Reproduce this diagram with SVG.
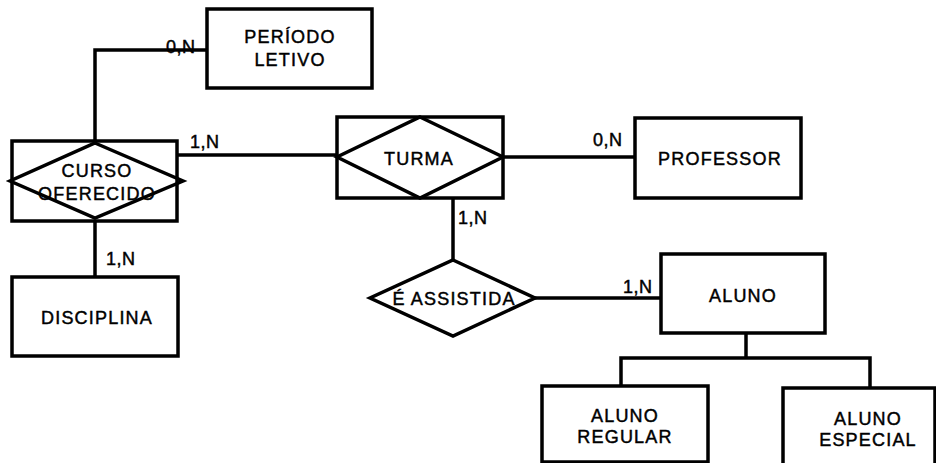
<svg xmlns="http://www.w3.org/2000/svg" width="936" height="463" viewBox="0 0 936 463">
<style>
.box{fill:#fff;stroke:#000;stroke-width:3.5}
.dia{fill:none;stroke:#000;stroke-width:3.5;stroke-linejoin:miter}
.ln{fill:none;stroke:#000;stroke-width:3.5}
text{font-family:"Liberation Sans",Arial,sans-serif;font-size:18px;fill:#000;stroke:#000;stroke-width:0.45;letter-spacing:1.2px}
.c{text-anchor:middle}
.card{letter-spacing:0.5px}
</style>
<rect width="936" height="463" fill="#fff"/>
<g id="connectors">
<polyline class="ln" points="95,141 95,50 207,50"/>
<line class="ln" x1="177" y1="155" x2="338" y2="155"/>
<line class="ln" x1="503" y1="157" x2="635" y2="157"/>
<line class="ln" x1="95" y1="221" x2="95" y2="277"/>
<line class="ln" x1="453" y1="198" x2="453" y2="260"/>
<line class="ln" x1="535" y1="298" x2="661" y2="298"/>
<line class="ln" x1="746" y1="333" x2="746" y2="358"/>
<polyline class="ln" points="621,386 621,358 870,358 870,388"/>
<text class="card" x="166" y="53">0,N</text>
<text class="card" x="190" y="148">1,N</text>
<text class="card" x="593" y="146">0,N</text>
<text class="card" x="458" y="224">1,N</text>
<text class="card" x="106" y="265">1,N</text>
<text class="card" x="623" y="293">1,N</text>
</g>
<g id="periodo-letivo">
<rect class="box" x="207" y="9" width="165" height="79"/>
<text class="c" x="290" y="43">PERÍODO</text>
<text class="c" x="290" y="66">LETIVO</text>
</g>
<g id="curso-oferecido">
<rect class="box" x="12" y="141" width="165" height="80"/>
<polygon class="dia" points="95,143 183,181 95,218 10,181"/>
<text class="c" x="97" y="177">CURSO</text>
<text class="c" x="97" y="200">OFERECIDO</text>
</g>
<g id="turma">
<rect class="box" x="337" y="117" width="166" height="81"/>
<polygon class="dia" points="420,117 503,157 420,198 337,157"/>
<text class="c" x="419" y="165">TURMA</text>
</g>
<g id="professor">
<rect class="box" x="635" y="118" width="166" height="80"/>
<text class="c" x="720" y="165">PROFESSOR</text>
</g>
<g id="disciplina">
<rect class="box" x="12" y="277" width="166" height="79"/>
<text class="c" x="97" y="324">DISCIPLINA</text>
</g>
<g id="e-assistida">
<polygon class="dia" points="453,260 535,298 453,336 370,298"/>
<text class="c" x="454" y="305">É ASSISTIDA</text>
</g>
<g id="aluno">
<rect class="box" x="661" y="254" width="164" height="79"/>
<text class="c" x="743" y="302">ALUNO</text>
</g>
<g id="aluno-regular">
<rect class="box" x="542" y="386" width="166" height="76"/>
<text class="c" x="625" y="422">ALUNO</text>
<text class="c" x="625" y="443">REGULAR</text>
</g>
<g id="aluno-especial">
<rect class="box" x="783" y="388" width="152" height="80"/>
<text class="c" x="868" y="425">ALUNO</text>
<text class="c" x="868" y="446">ESPECIAL</text>
</g>
</svg>
